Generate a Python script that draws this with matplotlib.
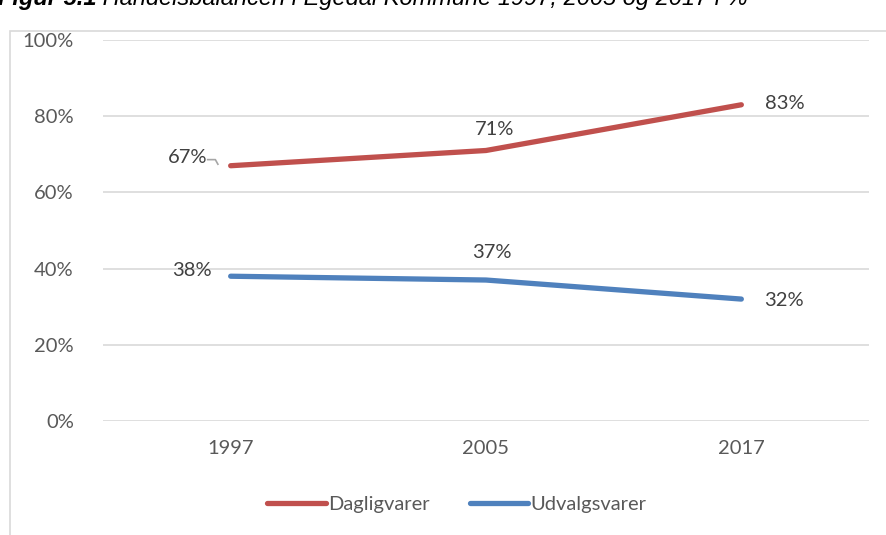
import matplotlib.pyplot as plt
from matplotlib.patches import Rectangle

# data
years = ["1997", "2005", "2017"]
dagligvarer = [67, 71, 83]
udvalgsvarer = [38, 37, 32]
yticks = [0, 20, 40, 60, 80, 100]

RED = "#C0504D"
BLUE = "#4F81BD"
GREY_TXT = "#595959"
GRID = "#D9D9D9"
FS = 14.5

plt.rcParams['font.family'] = ['Lato', 'DejaVu Sans']

W, H = 887, 535
fig = plt.figure(figsize=(W / 100, H / 100), dpi=100)

# chart frame (bottom and right run off the picture)
fig.add_artist(Rectangle((10 / W, -0.05), 1.2, 1 - 31 / H + 0.05,
                         transform=fig.transFigure, fill=False,
                         edgecolor=GRID, lw=1.2))

ax = fig.add_axes([103 / W, 1 - 421 / H, (869 - 103) / W, (421 - 40) / H])
x = range(len(years))

ax.plot(x, dagligvarer, color=RED, lw=3.8, solid_capstyle='round', label="Dagligvarer")
ax.plot(x, udvalgsvarer, color=BLUE, lw=3.8, solid_capstyle='round', label="Udvalgsvarer")

ax.set_xlim(-0.5, 2.5)
ax.set_ylim(0, 100)
ax.set_yticks(yticks)
ax.set_yticklabels([f"{v}%" for v in yticks])
ax.set_xticks(list(x))
ax.set_xticklabels(years)
ax.grid(axis='y', color=GRID, lw=1.2)
ax.set_axisbelow(True)
for s in ax.spines.values():
    s.set_visible(False)
ax.tick_params(length=0, labelsize=FS, colors=GREY_TXT, pad=14)
ax.tick_params(axis='y', pad=21)

# data labels
lbl = dict(fontsize=FS, color="#404040")
ax.annotate(f"{dagligvarer[0]}%", (0, dagligvarer[0]), xytext=(-31, 6),
            textcoords='offset points', ha='center', va='center', **lbl)
ax.plot([-0.09, -0.06, -0.05], [68.6, 68.6, 67.4], color="#A6A6A6", lw=1.2)
ax.annotate(f"{dagligvarer[1]}%", (1, dagligvarer[1]), xytext=(6, 15),
            textcoords='offset points', ha='center', va='center', **lbl)
ax.annotate(f"{dagligvarer[2]}%", (2, dagligvarer[2]), xytext=(31, 1),
            textcoords='offset points', ha='center', va='center', **lbl)
ax.annotate(f"{udvalgsvarer[0]}%", (0, udvalgsvarer[0]), xytext=(-28, 4),
            textcoords='offset points', ha='center', va='center', **lbl)
ax.annotate(f"{udvalgsvarer[1]}%", (1, udvalgsvarer[1]), xytext=(4, 20),
            textcoords='offset points', ha='center', va='center', **lbl)
ax.annotate(f"{udvalgsvarer[2]}%", (2, udvalgsvarer[2]), xytext=(31, -1),
            textcoords='offset points', ha='center', va='center', **lbl)

leg = fig.legend(loc='center', bbox_to_anchor=(0.515, 1 - 504 / H), ncol=2,
                 frameon=False, fontsize=FS, handlelength=2.9, handletextpad=0.1,
                 columnspacing=2.0)
for t in leg.get_texts():
    t.set_color(GREY_TXT)

# title, cut off at the top as in the source
t1 = fig.text(-2 / W, 1 - 10 / H, "Figur 5.1", fontsize=17, fontweight='bold',
              fontstyle='italic', family='Liberation Sans', va='bottom')
ax.annotate(" Handelsbalancen i Egedal Kommune 1997, 2005 og 2017 i %",
            xy=(1, 0), xycoords=t1, va='bottom', ha='left', fontsize=17,
            fontstyle='italic', family='Liberation Sans', annotation_clip=False)

fig.savefig("out.png", dpi=100)
